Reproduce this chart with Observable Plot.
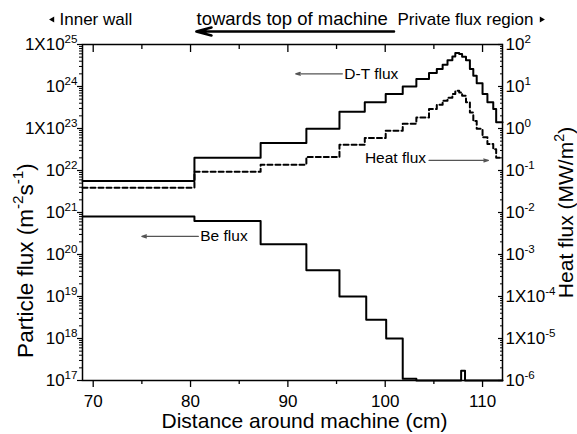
<!DOCTYPE html>
<html><head><meta charset="utf-8">
<script src="https://cdn.jsdelivr.net/npm/d3@7"></script>
<script src="https://cdn.jsdelivr.net/npm/@observablehq/plot@0.6"></script>
<style>
html,body{margin:0;padding:0;background:#fff;}
#chart svg{display:block;}
</style></head><body><div id="chart"></div>
<script>
// ---- data ----
const binEdges = [68.9, 80.4, 87.2, 91.9, 95.3, 97.9, 100.05, 101.8, 103.2, 104.5, 105.3, 105.9, 106.4, 106.9, 107.2, 107.6, 107.9, 108.3, 108.7, 109.05, 109.4, 110.0, 110.5, 111.1, 111.4, 112.05];
const dtFlux = [5.6e21, 2.0e22, 4.5e22, 9.8e22, 2.5e23, 4.2e23, 6.6e23, 1.0e24, 1.5e24, 2.1e24, 2.6e24, 3.3e24, 4.2e24, 5.2e24, 6.3e24, 5.9e24, 5.1e24, 4.2e24, 2.6e24, 1.8e24, 1.2e24, 6.6e23, 4.2e23, 2.9e23, 1.4e23];
const heatFlux = [0.039, 0.093, 0.138, 0.21, 0.41, 0.59, 0.89, 1.29, 1.82, 2.9, 3.7, 4.6, 5.4, 6.6, 7.9, 7.2, 6.0, 4.2, 2.4, 1.5, 0.98, 0.62, 0.43, 0.32, 0.2];
const beEdges = [68.9, 80.4, 87.2, 91.9, 95.3, 98.05, 100.1, 101.8, 103.2, 107.8, 108.2, 112.05];
const beFlux = [8.0e20, 6.3e20, 1.75e20, 4.2e19, 1.0e19, 2.8e18, 1.0e18, 1.1e17, 1e17, 1.7e17, 1e17];
const heatToParticle = 1e23; // right axis 10^-1 MW/m2 aligns with 10^22 m-2s-1

const xDomain = [68.9, 112.05];
const yDomain = [1e17, 1e25];
const xMajorTicks = [70, 80, 90, 100, 110];
const xMinorTicks = [75, 85, 95, 105];
const leftTickLabels = ["10^{17}", "10^{18}", "10^{19}", "10^{20}", "10^{21}", "10^{22}", "1X10^{23}", "10^{24}", "1X10^{25}"];
const rightTickLabels = ["10^{-6}", "1X10^{-5}", "1X10^{-4}", "10^{-3}", "10^{-2}", "10^{-1}", "10^{0}", "10^{1}", "10^{2}"];

const labelsRightOfArrow = [
  {x: 95.8, y: 2.0e24, text: "D-T flux"},
  {x: 81.0, y: 2.7e20, text: "Be flux"}
];
const labelsLeftOfArrow = [
  {x: 104.2, y: 1.95e22, text: "Heat flux"}
];
const annotArrows = [
  {x1: 95.6, y1: 2.0e24, x2: 90.8, y2: 2.0e24},
  {x1: 104.5, y1: 1.74e22, x2: 110.6, y2: 1.74e22},
  {x1: 80.8, y1: 2.7e20, x2: 75.0, y2: 2.7e20}
];
const headerArrow = [{x1: 100.9, y1: 2.04e25, x2: 80.6, y2: 2.04e25}];

// ---- helpers ----
const steps = (edges, vals, k = 1) => edges.map((x, i) => ({x, y: vals[Math.min(i, vals.length - 1)] * k}));
const decadeTicks = d3.range(17, 26).map(e => 10 ** e);
const minorTicks = d3.range(17, 25).flatMap(e => d3.range(2, 10).map(k => k * 10 ** e));
const leftLab = new Map(leftTickLabels.map((s, i) => [17 + i, s]));
const rightLab = new Map(rightTickLabels.map((s, i) => [17 + i, s]));
const dec = d => Math.round(Math.log10(d));

const font = "'Liberation Sans', Arial, Helvetica, sans-serif";

const chart = Plot.plot({
  width: 577, height: 434,
  marginLeft: 82, marginRight: 75, marginTop: 44, marginBottom: 54,
  x: {domain: xDomain},
  y: {type: "log", domain: yDomain},
  style: {fontFamily: font, fontSize: "17px", color: "black", background: "white", overflow: "visible"},
  marks: [
    Plot.line(steps(beEdges, beFlux), {x: "x", y: "y", curve: "step-after", stroke: "black", strokeWidth: 2}),
    Plot.line(steps(binEdges, heatFlux, heatToParticle), {x: "x", y: "y", curve: "step-after", stroke: "black", strokeWidth: 2, strokeDasharray: "5,3"}),
    Plot.line(steps(binEdges, dtFlux), {x: "x", y: "y", curve: "step-after", stroke: "black", strokeWidth: 2}),
    Plot.frame({stroke: "black", strokeWidth: 1.5}),
    // bottom axis
    Plot.axisX({anchor: "bottom", ticks: xMajorTicks, tickSize: 7, tickFormat: () => "", label: null, strokeWidth: 1.3}),
    Plot.axisX({anchor: "bottom", ticks: xMinorTicks, tickSize: 4, tickFormat: () => "", label: null, strokeWidth: 1.3}),
    Plot.axisX({anchor: "bottom", ticks: xMajorTicks, tickSize: 0, tickPadding: 14, tickFormat: d => String(d), label: null, fontSize: 17}),
    // top axis (inward ticks)
    Plot.axisX({anchor: "top", ticks: xMajorTicks, tickSize: -7, tickFormat: () => "", label: null, strokeWidth: 1.3}),
    Plot.axisX({anchor: "top", ticks: xMinorTicks, tickSize: -4, tickFormat: () => "", label: null, strokeWidth: 1.3}),
    // left axis
    Plot.axisY({anchor: "left", ticks: decadeTicks, tickSize: 5, tickFormat: () => "", label: null, strokeWidth: 1.2}),
    Plot.axisY({anchor: "left", ticks: minorTicks, tickSize: 3, tickFormat: () => "", label: null, strokeWidth: 1}),
    Plot.axisY({anchor: "left", ticks: decadeTicks, tickSize: 0, tickPadding: 5, tickFormat: d => leftLab.get(dec(d)), label: null, fontSize: 17}),
    // right axis (inward ticks)
    Plot.axisY({anchor: "right", ticks: decadeTicks, tickSize: -5, tickFormat: () => "", label: null, strokeWidth: 1.2}),
    Plot.axisY({anchor: "right", ticks: minorTicks, tickSize: -3, tickFormat: () => "", label: null, strokeWidth: 1}),
    Plot.axisY({anchor: "right", ticks: decadeTicks, tickSize: 0, tickPadding: 3, tickFormat: d => rightLab.get(dec(d)), label: null, fontSize: 17}),
    // axis titles
    Plot.text(["Distance around machine (cm)"], {frameAnchor: "bottom", dx: 12, dy: 41, fontSize: 21, lineAnchor: "middle"}),
    Plot.text(["Particle flux (m^{-2}s^{-1})"], {frameAnchor: "left", rotate: -90, dx: -57, dy: 48, fontSize: 22.5, lineAnchor: "middle", textAnchor: "middle"}),
    Plot.text(["Heat flux (MW/m^{2})"], {frameAnchor: "right", rotate: -90, dx: 64, dy: 0, fontSize: 21, lineAnchor: "middle", textAnchor: "middle"}),
    // header
    Plot.text(["Inner wall"], {frameAnchor: "top-left", dx: -23, dy: -25, fontSize: 17, textAnchor: "start", lineAnchor: "middle"}),
    Plot.text(["towards top of machine"], {frameAnchor: "top-left", dx: 114, dy: -25, fontSize: 18.5, textAnchor: "start", lineAnchor: "middle"}),
    Plot.text(["Private flux region"], {frameAnchor: "top-right", dx: 31, dy: -25, fontSize: 17, textAnchor: "end", lineAnchor: "middle"}),
    Plot.dot([0], {frameAnchor: "top-left", dx: -30, dy: -25, symbol: "triangle", r: 2.2, rotate: -90, fill: "black", stroke: "none"}),
    Plot.dot([0], {frameAnchor: "top-right", dx: 39, dy: -25, symbol: "triangle", r: 2.2, rotate: 90, fill: "black", stroke: "none"}),
    Plot.arrow(headerArrow, {x1: "x1", y1: "y1", x2: "x2", y2: "y2", stroke: "black", strokeWidth: 2.6, headLength: 9, headAngle: 30, clip: false}),
    // annotations
    Plot.arrow(annotArrows, {x1: "x1", y1: "y1", x2: "x2", y2: "y2", stroke: "#555", strokeWidth: 1.2, headLength: 6, headAngle: 35}),
    Plot.text(labelsRightOfArrow, {x: "x", y: "y", text: "text", textAnchor: "start", fontSize: 15.5, lineAnchor: "middle"}),
    Plot.text(labelsLeftOfArrow, {x: "x", y: "y", text: "text", textAnchor: "end", fontSize: 15.5, lineAnchor: "middle"})
  ]
});
document.getElementById("chart").append(chart);

// superscript post-processing: "^{...}" -> raised tspan
function supify(svg) {
  svg.querySelectorAll("text").forEach(t => {
    const s = t.textContent;
    if (!s.includes("^{")) return;
    const fs = parseFloat(getComputedStyle(t).fontSize) || 17;
    const shift = 0.42 * fs;
    t.textContent = "";
    const re = /\^\{([^}]*)\}/g;
    let last = 0, m, raised = false;
    const add = (str, sup) => {
      const ts = document.createElementNS("http://www.w3.org/2000/svg", "tspan");
      ts.textContent = str;
      if (sup) { ts.setAttribute("font-size", (fs * 0.68).toFixed(1)); ts.setAttribute("dy", (-shift).toFixed(1)); raised = true; }
      else if (raised) { ts.setAttribute("dy", shift.toFixed(1)); raised = false; }
      t.append(ts);
    };
    while ((m = re.exec(s))) {
      if (m.index > last) add(s.slice(last, m.index), false);
      add(m[1], true);
      last = re.lastIndex;
    }
    if (last < s.length) add(s.slice(last), false);
  });
}
supify(chart);
</script></body></html>
